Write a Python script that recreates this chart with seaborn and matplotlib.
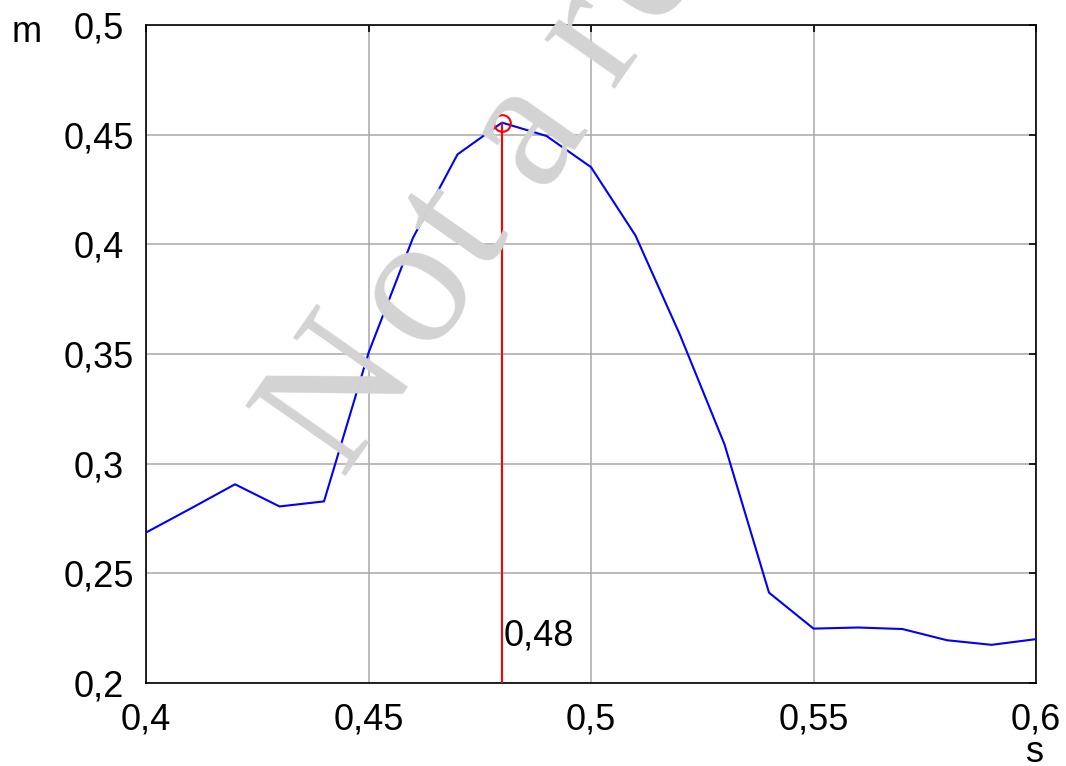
import matplotlib
matplotlib.use("Agg")
import matplotlib.pyplot as plt
import seaborn as sns
import numpy as np
import pandas as pd
from matplotlib.ticker import FuncFormatter

s_values = [0.40, 0.41, 0.42, 0.43, 0.44, 0.45, 0.46, 0.47, 0.48, 0.49, 0.50,
            0.51, 0.52, 0.53, 0.54, 0.55, 0.56, 0.57, 0.58, 0.59, 0.60]
m_values = [0.2686, 0.2795, 0.2906, 0.2805, 0.2828, 0.3505, 0.4030, 0.4410, 0.4555, 0.4494, 0.4352,
            0.4040, 0.3587, 0.3088, 0.2412, 0.2248, 0.2253, 0.2246, 0.2195, 0.2174, 0.2200]
peak_s = 0.48
peak_m = 0.4555
peak_label = "0,48"
x_ticks = [0.40, 0.45, 0.50, 0.55, 0.60]
y_ticks = [0.20, 0.25, 0.30, 0.35, 0.40, 0.45, 0.50]
x_unit = "s"
y_unit = "m"
watermark_chars = ["N", "o", "t", "a", "r", "e"]
watermark_dist = [50, 180, 254, 372, 486, 572]   # distance along baseline (px)

sns.set_style("white")
plt.rcParams['font.family'] = ['Liberation Sans', 'DejaVu Sans']
plt.rcParams['text.color'] = 'black'

W, H = 1066, 766
fig = plt.figure(figsize=(W / 100, H / 100), dpi=100)
ax = fig.add_axes([146 / W, 1 - 683 / H, (1036 - 146) / W, (683 - 25) / H])

# watermark, placed letter by letter along a rotated baseline
theta = np.deg2rad(55)
p0 = np.array([350.0, 462.0])
dvec = np.array([np.cos(theta), -np.sin(theta)])
for ch, dist in zip(watermark_chars, watermark_dist):
    px, py = p0 + dist * dvec
    fig.text(px / W, 1 - py / H, ch, fontsize=134, family='Liberation Serif',
             color='#d3d3d3', rotation=55, rotation_mode='anchor',
             ha='center', va='baseline', zorder=0)
ax.patch.set_alpha(0)

df = pd.DataFrame({"s": s_values, "m": m_values})
sns.lineplot(data=df, x="s", y="m", ax=ax, color="#0000ff", lw=1.5, zorder=3)

ax.plot([peak_s, peak_s], [0.2, peak_m], color="#ff0000", lw=1.5, zorder=4)
ax.plot([peak_s], [peak_m], marker='o', ms=12, mfc='none', mec='#ff0000', mew=1.5, zorder=5)
ax.text(peak_s + 0.0003, 0.2173, peak_label, fontsize=26, ha='left', va='baseline',
        color='black')

ax.set_xlim(0.4, 0.6)
ax.set_ylim(0.2, 0.5)
ax.set_xticks(x_ticks)
ax.set_yticks(y_ticks)
fmt = FuncFormatter(lambda v, p: ('%g' % round(v, 3)).replace('.', ','))
ax.xaxis.set_major_formatter(fmt)
ax.yaxis.set_major_formatter(fmt)
ax.tick_params(axis='both', which='major', direction='in', length=5, width=1.2,
               labelsize=26, top=True, right=True, colors='black')
ax.tick_params(axis='x', pad=14)
ax.tick_params(axis='y', pad=34)
for lbl in ax.get_yticklabels():
    lbl.set_horizontalalignment('center')
ax.grid(True, color='#a8a8a8', lw=1.1)
ax.set_xlabel("")
ax.set_ylabel("")
for sp in ax.spines.values():
    sp.set_visible(True)
    sp.set_color('black')
    sp.set_linewidth(1.2)

fig.text(26.5 / W, 1 - 42 / H, y_unit, fontsize=26, ha='center', va='baseline', color='black')
fig.text(1035 / W, 1 - 762 / H, x_unit, fontsize=26, ha='center', va='baseline', color='black')

fig.savefig("out.png", dpi=100)
